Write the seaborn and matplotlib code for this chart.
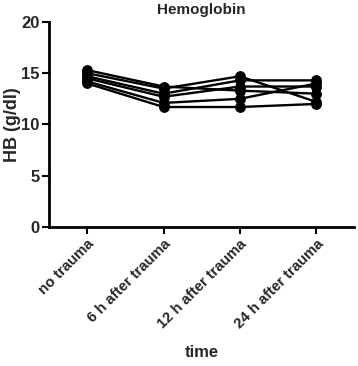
import matplotlib
matplotlib.use("Agg")
import matplotlib.pyplot as plt
import seaborn as sns
import pandas as pd

times = ["no trauma", "6 h after trauma", "12 h after trauma", "24 h after trauma"]
subj_a = [15.3, 13.7, 13.3, 13.0]
subj_b = [15.0, 13.5, 14.7, 12.2]
subj_c = [14.7, 13.0, 14.3, 14.3]
subj_d = [14.5, 12.7, 13.7, 13.7]
subj_e = [14.2, 12.1, 12.5, 14.0]
subj_f = [14.0, 11.7, 11.7, 12.0]
subjects = {"A": subj_a, "B": subj_b, "C": subj_c, "D": subj_d, "E": subj_e, "F": subj_f}

rows = []
for s, vals in subjects.items():
    for i, (t, v) in enumerate(zip(times, vals)):
        rows.append({"subject": s, "pos": i, "time": t, "hb": v})
df = pd.DataFrame(rows)

sns.set_style("ticks")
plt.rcParams["font.family"] = ["Liberation Sans", "DejaVu Sans"]
plt.rcParams["font.weight"] = "bold"

fig = plt.figure(figsize=(3.58, 3.66), dpi=100)
ax = fig.add_axes([0.137, 0.38, 0.853, 0.56])
sns.lineplot(data=df, x="pos", y="hb", units="subject", estimator=None,
             color="black", marker="o", markersize=7, markeredgecolor="black",
             linewidth=1.7, ax=ax, legend=False)

ax.set_xlim(-0.5, 3.5)
ax.set_ylim(0, 20)
ax.set_yticks([0, 5, 10, 15, 20])
ax.set_xticks(range(len(times)))
ax.set_xticklabels(times, rotation=45, ha="right", rotation_mode="anchor",
                   fontsize=10.7, fontweight="bold")
for lbl in ax.get_yticklabels():
    lbl.set_fontsize(12)
    lbl.set_fontweight("bold")
ax.tick_params(axis="both", width=1.5, length=5, color="black", pad=2)
for sp in ["left", "bottom"]:
    ax.spines[sp].set_linewidth(2)
    ax.spines[sp].set_color("black")
sns.despine(ax=ax)
ax.set_xlabel("time", fontsize=12, fontweight="bold", labelpad=10)
ax.set_ylabel("HB (g/dl)", fontsize=13, fontweight="bold")
ax.yaxis.set_label_coords(-0.093, 0.5)
ax.set_title("Hemoglobin", fontsize=11, fontweight="bold", pad=6)

fig.savefig("out.png", dpi=100)
